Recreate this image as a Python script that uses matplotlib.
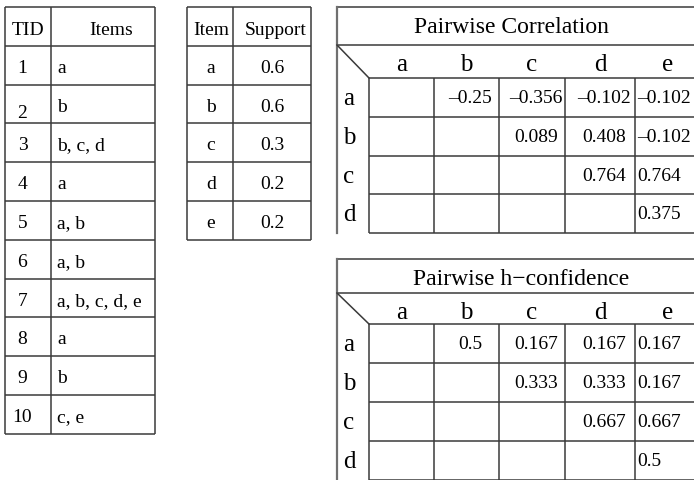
import matplotlib
matplotlib.use('Agg')
from matplotlib import pyplot as plt

plt.rcParams['font.family'] = ['Liberation Serif', 'DejaVu Serif']

# data
tids = ['1', '2', '3', '4', '5', '6', '7', '8', '9', '10']
transactions = ['a', 'b', 'b, c, d', 'a', 'a, b', 'a, b', 'a, b, c, d, e', 'a', 'b', 'c, e']
items = ['a', 'b', 'c', 'd', 'e']
support = [0.6, 0.6, 0.3, 0.2, 0.2]
row_items = ['a', 'b', 'c', 'd']
corr = [[None, -0.25, -0.356, -0.102, -0.102],
        [None, None, 0.089, 0.408, -0.102],
        [None, None, None, 0.764, 0.764],
        [None, None, None, None, 0.375]]
hconf = [[None, 0.5, 0.167, 0.167, 0.167],
         [None, None, 0.333, 0.333, 0.167],
         [None, None, None, 0.667, 0.667],
         [None, None, None, None, 0.5]]

LC = '#3a3a3a'
LW = 1.1


def fmt(v):
    # the source uses a short dash glued to the number
    return f'{v:g}'.replace('-', '\u2013')


def hline(ax, y, x0, x1):
    ax.plot([x0, x1], [y, y], color=LC, lw=LW, solid_capstyle='butt')


def vline(ax, x, y0, y1):
    ax.plot([x, x], [y0, y1], color=LC, lw=LW, solid_capstyle='butt')


def matrix_table(ax, top, title_h, head_h, row_h, title, title_x, values):
    left, lab_r = 337, 369
    cols = [369, 434, 499, 565, 635, 700]
    y_head = top + title_h
    y_rows = y_head + head_h
    bottom = y_rows + row_h * len(values)
    hline(ax, top, left, 700)
    hline(ax, y_head, left, 700)
    hline(ax, y_rows, lab_r, 700)
    for i in range(1, len(values) + 1):
        hline(ax, y_rows + row_h * i, lab_r, 700)
    ax.plot([left, left], [top, bottom], color='#707070', lw=1.6)
    for x in cols[:-1]:
        vline(ax, x, y_rows, bottom)
    ax.plot([left, lab_r], [y_head, y_rows], color=LC, lw=LW)
    ax.text(title_x, top + 26, title, fontsize=17, ha='center', va='baseline')
    for j, name in enumerate(items):
        cx = (cols[j] + cols[j + 1]) / 2
        ax.text(cx, y_head + 26, name, fontsize=18, ha='center', va='baseline')
    for i, name in enumerate(row_items):
        yb = y_rows + row_h * i + 27
        ax.text(343, yb, name, fontsize=18, ha='left', va='baseline')
        for j, v in enumerate(values[i]):
            if v is None:
                continue
            if j == len(items) - 1:
                ax.text(cols[j] + 2, yb - 2, fmt(v), fontsize=14, ha='left', va='baseline')
            else:
                cx = (cols[j] + cols[j + 1]) / 2 + 4
                ax.text(cx, yb - 2, fmt(v), fontsize=14, ha='center', va='baseline')


fig = plt.figure(figsize=(6.94, 4.8), dpi=100)
ax = fig.add_axes([0, 0, 1, 1])
ax.set_xlim(0, 694)
ax.set_ylim(480, 0)
ax.axis('off')

# transactions table
top, rh = 7, 38.8
n = len(tids)
for i in range(n + 2):
    hline(ax, top + rh * i, 5, 155)
for x in (5, 51, 155):
    vline(ax, x, top, top + rh * (n + 1))
ax.text(28, top + 28, 'TID', fontsize=14, ha='center', va='baseline')
ax.text(111, top + 28, 'Items', fontsize=14, ha='center', va='baseline')
for i, (t, s) in enumerate(zip(tids, transactions)):
    yb = top + rh * (i + 1) + 27
    ax.text(22.5, yb + (6 if t == '2' else 0), t, fontsize=14, ha='center', va='baseline')
    ax.text(57, yb, s, fontsize=14, ha='left', va='baseline')

# support table
for i in range(len(items) + 2):
    hline(ax, top + rh * i, 187, 311)
for x in (187, 233, 311):
    vline(ax, x, top, top + rh * (len(items) + 1))
ax.text(211, top + 28, 'Item', fontsize=14, ha='center', va='baseline')
ax.text(276, top + 28, 'Support', fontsize=14, ha='center', va='baseline')
for i, (it, sv) in enumerate(zip(items, support)):
    yb = top + rh * (i + 1) + 27
    ax.text(211, yb, it, fontsize=14, ha='center', va='baseline')
    ax.text(272, yb, fmt(sv), fontsize=14, ha='center', va='baseline')

matrix_table(ax, 7, 38, 33, 38.8, 'Pairwise Correlation', 511, corr)
matrix_table(ax, 259, 34, 31, 38.9, 'Pairwise h\u2212confidence', 521, hconf)

fig.savefig('out.png', dpi=100)
